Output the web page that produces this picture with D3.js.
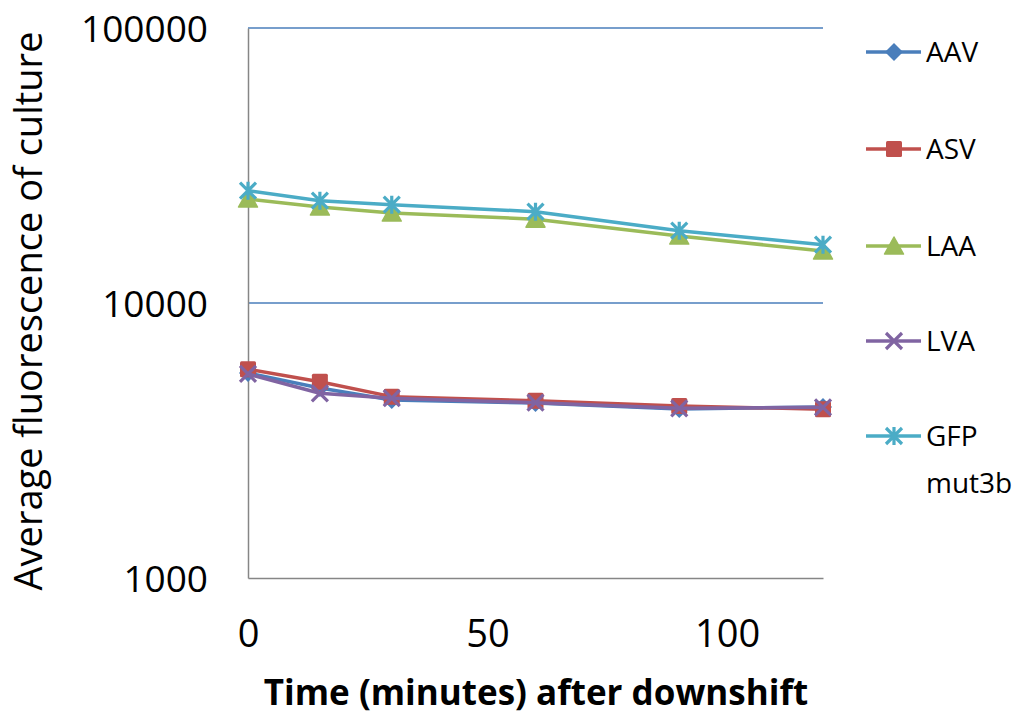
<!DOCTYPE html>
<html>
<head>
<meta charset="utf-8">
<script src="https://cdn.jsdelivr.net/npm/d3@7"></script>
<style>
  body { margin: 0; background: #fff; }
  svg { display: block; }
</style>
</head>
<body>
<svg id="chart" width="1014" height="719"></svg>
<script>
// Time points (minutes after downshift)
const times = [0, 15, 30, 60, 90, 120];

// Average fluorescence per construct
const aav = [5565, 4910, 4440, 4325, 4120, 4185];
const asv = [5740, 5175, 4565, 4415, 4220, 4110];
const laa = [23880, 22340, 21230, 20180, 17520, 15450];
const lva = [5520, 4695, 4505, 4340, 4140, 4175];
const gfp = [25610, 23550, 22780, 21480, 18320, 16290];

const seriesNames = ["AAV", "ASV", "LAA", "LVA", "GFP mut3b"];
const seriesColors = ["#4a7ebb", "#c0504d", "#9bbb59", "#8064a2", "#4bacc6"];
const seriesMarkers = ["diamond", "square", "triangle", "cross", "star"];
const seriesValues = [aav, asv, laa, lva, gfp];

const yTicks = [1000, 10000, 100000];
const xTicks = [0, 50, 100];

const svg = d3.select("#chart");
const font = "'Open Sans', 'Liberation Sans', sans-serif";

const plot = { left: 248, right: 823, top: 28, bottom: 578 };

const x = d3.scaleLinear().domain([0, 120]).range([plot.left, plot.right]);
const y = d3.scaleLog().domain([1000, 100000]).range([plot.bottom, plot.top]);

// Horizontal gridlines
svg.append("g")
  .selectAll("line")
  .data(yTicks.filter(d => d > 1000))
  .join("line")
  .attr("x1", plot.left).attr("x2", plot.right)
  .attr("y1", d => y(d)).attr("y2", d => y(d))
  .attr("stroke", "#4a7ebb").attr("stroke-width", 1.3);

// Y axis
const yAxis = svg.append("g")
  .attr("transform", `translate(${plot.left},0)`)
  .call(d3.axisLeft(y).tickValues(yTicks).tickFormat(d3.format("d")).tickSize(0).tickPadding(40));
yAxis.select(".domain").attr("stroke", "#868686").attr("stroke-width", 1.5);
yAxis.selectAll("text")
  .attr("font-family", font).attr("font-size", 37).attr("fill", "#000")
  .attr("dy", "0.36em");

// X axis
const xAxis = svg.append("g")
  .attr("transform", `translate(0,${plot.bottom})`)
  .call(d3.axisBottom(x).tickValues(xTicks).tickSize(0).tickPadding(42));
xAxis.select(".domain").attr("stroke", "#868686").attr("stroke-width", 1.5);
xAxis.selectAll("text")
  .attr("font-family", font).attr("font-size", 38).attr("fill", "#000");

// Axis titles
svg.append("text")
  .attr("transform", "translate(42,311) rotate(-90)")
  .attr("text-anchor", "middle")
  .attr("font-family", font).attr("font-size", 38).attr("fill", "#000")
  .text("Average fluorescence of culture");

svg.append("text")
  .attr("x", 536).attr("y", 705)
  .attr("text-anchor", "middle")
  .attr("font-family", font).attr("font-size", 35).attr("font-weight", "bold").attr("fill", "#000")
  .text("Time (minutes) after downshift");

// Marker shapes
function drawMarker(g, type, color) {
  const s = 8;
  if (type === "diamond") {
    g.append("path").attr("d", `M0,${-s - 1}L${s + 1},0L0,${s + 1}L${-s - 1},0Z`).attr("fill", color);
  } else if (type === "square") {
    g.append("rect").attr("x", -s).attr("y", -s).attr("width", 2 * s).attr("height", 2 * s)
      .attr("rx", 1.5).attr("fill", color);
  } else if (type === "triangle") {
    g.append("path").attr("d", `M0,${-s - 1}L${s + 1.5},${s}L${-s - 1.5},${s}Z`)
      .attr("fill", color).attr("stroke", color).attr("stroke-linejoin", "round").attr("stroke-width", 1.5);
  } else if (type === "cross") {
    g.append("path").attr("d", `M${-s},${-s}L${s},${s}M${s},${-s}L${-s},${s}`)
      .attr("stroke", color).attr("stroke-width", 3.2);
  } else if (type === "star") {
    g.append("path").attr("d", `M${-s},${-s}L${s},${s}M${s},${-s}L${-s},${s}M0,${-s - 1}L0,${s + 1}`)
      .attr("stroke", color).attr("stroke-width", 3.2);
  }
}

const line = d3.line().x((d, i) => x(times[i])).y(d => y(d));

// Series lines and markers
seriesValues.forEach((vals, k) => {
  const g = svg.append("g");
  g.append("path")
    .datum(vals)
    .attr("d", line)
    .attr("fill", "none")
    .attr("stroke", seriesColors[k])
    .attr("stroke-width", 3.5)
    .attr("stroke-linejoin", "round");
  vals.forEach((v, i) => {
    const m = g.append("g").attr("transform", `translate(${x(times[i])},${y(v)})`);
    drawMarker(m, seriesMarkers[k], seriesColors[k]);
  });
});

// Legend
const legendY = [52, 149, 246, 341, 436];
seriesNames.forEach((name, k) => {
  const g = svg.append("g").attr("transform", `translate(0,${legendY[k]})`);
  g.append("line").attr("x1", 866).attr("x2", 921).attr("y1", 0).attr("y2", 0)
    .attr("stroke", seriesColors[k]).attr("stroke-width", 3.5);
  const m = g.append("g").attr("transform", "translate(894,0)");
  drawMarker(m, seriesMarkers[k], seriesColors[k]);
  const parts = name.split(" ");
  const t = g.append("text")
    .attr("x", 926).attr("y", 0)
    .attr("font-family", font).attr("font-size", 28).attr("fill", "#000");
  parts.forEach((p, j) => {
    t.append("tspan").attr("x", 926).attr("dy", j === 0 ? "0.35em" : "1.68em").text(p);
  });
});
</script>
</body>
</html>
